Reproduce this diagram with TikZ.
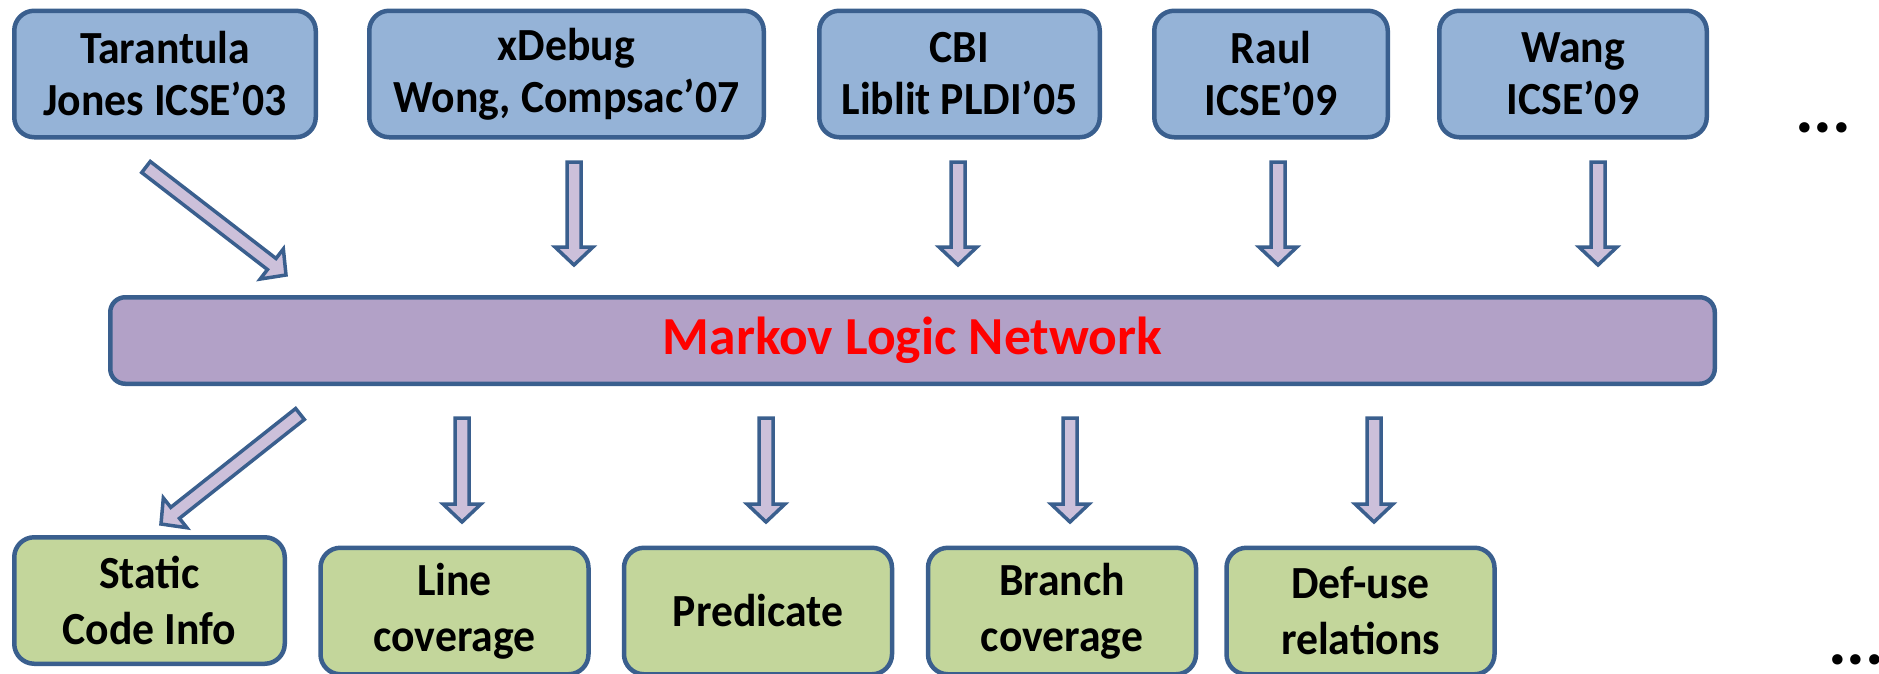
\documentclass[tikz,border=0pt]{standalone}
\usepackage{fontspec}
\setmainfont{Carlito}
\newfontfamily\boxfont{Carlito}[FakeStretch=0.95, Ligatures=TeX]
\usepackage{tikz}
\usetikzlibrary{calc}

\definecolor{toolfill}{HTML}{95B3D7}
\definecolor{infofill}{HTML}{C3D69B}
\definecolor{mlnfill}{HTML}{B2A1C7}
\definecolor{arrowfill}{HTML}{CCC0DA}
\definecolor{edgeblue}{HTML}{3A5F8E}

\tikzset{
  toolbox/.style={draw=edgeblue, fill=toolfill, line width=4.5pt, rounded corners=20pt,
    inner sep=0pt, align=center, font=\boxfont\fontsize{46}{52}\selectfont\bfseries},
  infobox/.style={toolbox, fill=infofill, minimum width=268pt, minimum height=126.5pt,
    font=\boxfont\fontsize{46}{56}\selectfont\bfseries},
  mlnbar/.style={draw=edgeblue, fill=mlnfill, line width=4.5pt, rounded corners=15pt,
    inner sep=0pt, text=red, font=\fontsize{53.5}{60}\selectfont\bfseries},
  blockarr/.style={draw=edgeblue, fill=arrowfill, line width=3.5pt, line join=miter},
  moredots/.style={inner sep=0pt, anchor=base west, font=\fontsize{70}{70}\selectfont\bfseries}
}

% fat arrow between two named points
\newcommand{\blockarrow}[2]{%
  \coordinate (ba-h) at ($(#2)!18pt!(#1)$);
  \draw[blockarr] ($(#1)!7pt!90:(#2)$) -- ($(ba-h)!7pt!90:(#2)$) -- ($(ba-h)!19pt!90:(#2)$)
    -- (#2) -- ($(ba-h)!19pt!-90:(#2)$) -- ($(ba-h)!7pt!-90:(#2)$) -- ($(#1)!7pt!-90:(#2)$) -- cycle;}

\begin{document}
\begin{tikzpicture}[x=1pt,y=-1pt]
  \useasboundingbox (0,0) rectangle (1879,673);

  % fault localization tools
  \node[toolbox, minimum width=301.5pt, minimum height=126.5pt] (tarantula) at (165,74) {Tarantula\\Jones ICSE’03};
  \node[toolbox, minimum width=394.5pt, minimum height=126.5pt] (xdebug) at (566.5,74) {xDebug\\Wong, Compsac’07};
  \node[toolbox, minimum width=280.5pt, minimum height=126.5pt] (cbi) at (959.5,74) {CBI\\Liblit PLDI’05};
  \node[toolbox, minimum width=233.5pt, minimum height=126.5pt] (raul) at (1271,74) {Raul\\ICSE’09};
  \node[toolbox, minimum width=267.5pt, minimum height=126.5pt] (wang) at (1573,74) {Wang\\ICSE’09};
  \node[moredots] (dotsTop) at (1795,132) {...};

  % the network
  \node[mlnbar, minimum width=1604.5pt, minimum height=86.5pt] (mln) at (912.5,340.5) {Markov Logic Network};

  % information sources
  \node[infobox, minimum width=270.5pt] (static) at (149.5,600.5) {Static\\Code Info};
  \node[infobox] (line) at (454.5,611) {Line\\coverage};
  \node[infobox] (pred) at (758,611) {Predicate};
  \node[infobox] (branch) at (1062,611) {Branch\\coverage};
  \node[infobox] (defuse) at (1360.5,611) {Def-use\\relations};
  \node[moredots] (dotsBot) at (1828,664) {...};

  % arrow ends
  \coordinate (t0) at (146,167);   \coordinate (h0) at (286,275);
  \coordinate (t1) at (574,162);   \coordinate (h1) at (574,265);
  \coordinate (t2) at (958,162);   \coordinate (h2) at (958,265);
  \coordinate (t3) at (1278,162);  \coordinate (h3) at (1278,265);
  \coordinate (t4) at (1598,162);  \coordinate (h4) at (1598,265);
  \coordinate (u0) at (300,414);   \coordinate (g0) at (161,524);
  \coordinate (u1) at (462,418);   \coordinate (g1) at (462,522);
  \coordinate (u2) at (766,418);   \coordinate (g2) at (766,522);
  \coordinate (u3) at (1070,418);  \coordinate (g3) at (1070,522);
  \coordinate (u4) at (1374,418);  \coordinate (g4) at (1374,522);

  \foreach \i in {0,...,4} {
    \blockarrow{t\i}{h\i}
    \blockarrow{u\i}{g\i}
  }
\end{tikzpicture}
\end{document}
